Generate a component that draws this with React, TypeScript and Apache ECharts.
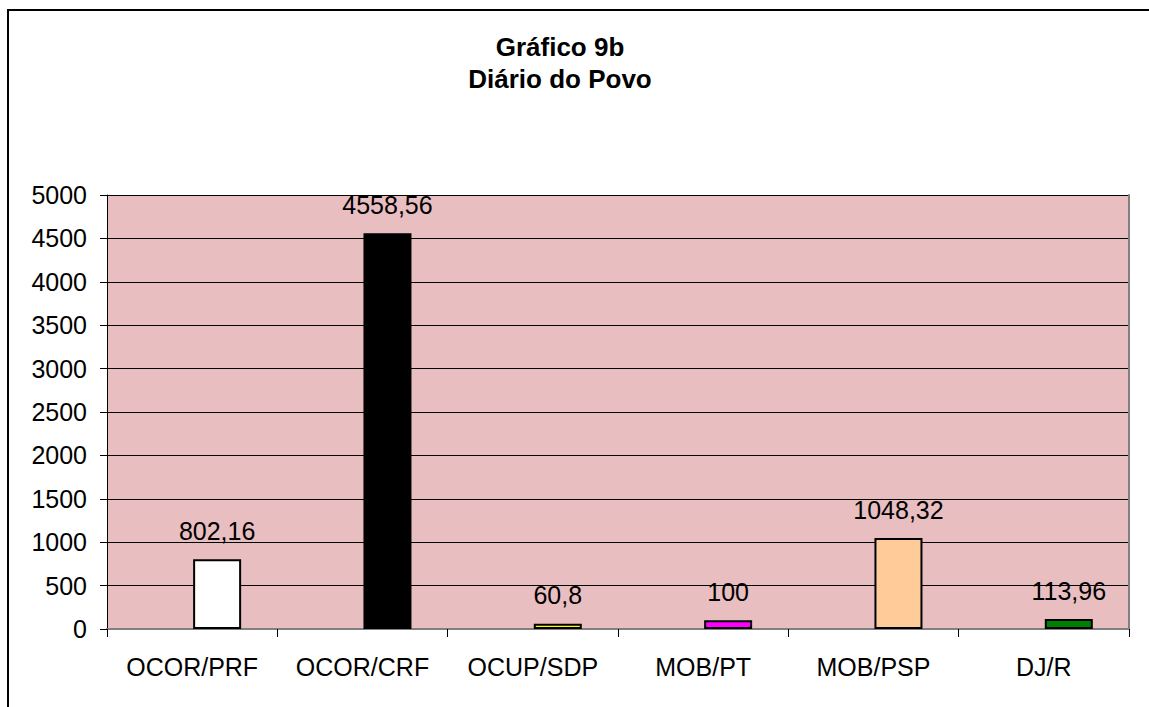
import React, { useEffect, useRef } from "react";
import * as echarts from "echarts";

const titleLines = ["Gráfico 9b", "Diário do Povo"];
const categories = ["OCOR/PRF", "OCOR/CRF", "OCUP/SDP", "MOB/PT", "MOB/PSP", "DJ/R"];
const values = [802.16, 4558.56, 60.8, 100, 1048.32, 113.96];
const emptySeries = [null, null, null, null, null, null];
const barColors = ["#ffffff", "#000000", "#ffff00", "#ff00ff", "#ffcc99", "#008000"];
const yMin = 0;
const yMax = 5000;
const yStep = 500;

const FONT = "Arial, 'Liberation Sans', sans-serif";

export default function App() {
  const ref = useRef<HTMLDivElement>(null);
  useEffect(() => {
    if (!ref.current) return;
    const chart = echarts.init(ref.current, null, { renderer: "svg" });
    chart.setOption({
      animation: false,
      backgroundColor: "#ffffff",
      textStyle: { fontFamily: FONT },
      graphic: [
        {
          type: "rect",
          shape: { x: 8, y: 10, width: 1300, height: 900 },
          style: { fill: "none", stroke: "#000000", lineWidth: 2 },
          silent: true,
          z: 100,
        },
        {
          type: "text",
          x: 560,
          y: 47,
          style: {
            text: titleLines[0],
            fontSize: 26,
            fontWeight: "bold",
            fontFamily: FONT,
            fill: "#000000",
            align: "center",
            verticalAlign: "middle",
          },
        },
        {
          type: "text",
          x: 560,
          y: 79,
          style: {
            text: titleLines[1],
            fontSize: 26,
            fontWeight: "bold",
            fontFamily: FONT,
            fill: "#000000",
            align: "center",
            verticalAlign: "middle",
          },
        },
      ],
      grid: {
        left: 107,
        top: 195,
        width: 1022,
        height: 434,
        show: true,
        backgroundColor: "#e9bec1",
        borderWidth: 0,
      },
      xAxis: [
        {
          type: "category",
          data: categories,
          position: "bottom",
          axisLine: { show: true, lineStyle: { color: "#000000", width: 1 } },
          axisTick: { show: true, length: 8, lineStyle: { color: "#000000", width: 1 } },
          axisLabel: { color: "#000000", fontSize: 25, fontFamily: FONT, margin: 25, interval: 0 },
          splitLine: { show: false },
        },
        {
          type: "category",
          data: categories,
          position: "top",
          axisLine: { show: true, lineStyle: { color: "#808080", width: 2 } },
          axisTick: { show: false },
          axisLabel: { show: false },
          splitLine: { show: false },
        },
      ],
      yAxis: [
        {
          type: "value",
          min: yMin,
          max: yMax,
          interval: yStep,
          position: "left",
          axisLine: { show: true, lineStyle: { color: "#000000", width: 1 } },
          axisTick: { show: true, length: 7, lineStyle: { color: "#000000", width: 1 } },
          axisLabel: {
            color: "#000000",
            fontSize: 25,
            fontFamily: FONT,
            margin: 20,
            formatter: (v: number) => String(v),
          },
          splitLine: { show: true, lineStyle: { color: "#000000", width: 1 } },
        },
        {
          type: "value",
          min: yMin,
          max: yMax,
          interval: yStep,
          position: "right",
          axisLine: { show: true, lineStyle: { color: "#808080", width: 2 } },
          axisTick: { show: false },
          axisLabel: { show: false },
          splitLine: { show: false },
        },
      ],
      series: [
        {
          type: "bar",
          data: emptySeries,
          barWidth: 48,
          barGap: "4%",
          silent: true,
        },
        {
          type: "bar",
          data: values.map((v, i) => ({
            value: v,
            itemStyle: { color: barColors[i] },
          })),
          barWidth: 48,
          barGap: "4%",
          itemStyle: { borderColor: "#000000", borderWidth: 2 },
          label: {
            show: true,
            position: "top",
            distance: 16,
            color: "#000000",
            fontSize: 25,
            fontFamily: FONT,
            formatter: (p: any) => String(p.value).replace(".", ","),
          },
        },
      ],
    });
    return () => chart.dispose();
  }, []);
  return (
    <div
      ref={ref}
      style={{ position: "absolute", left: 0, top: 0, width: 1149, height: 707 }}
    />
  );
}
